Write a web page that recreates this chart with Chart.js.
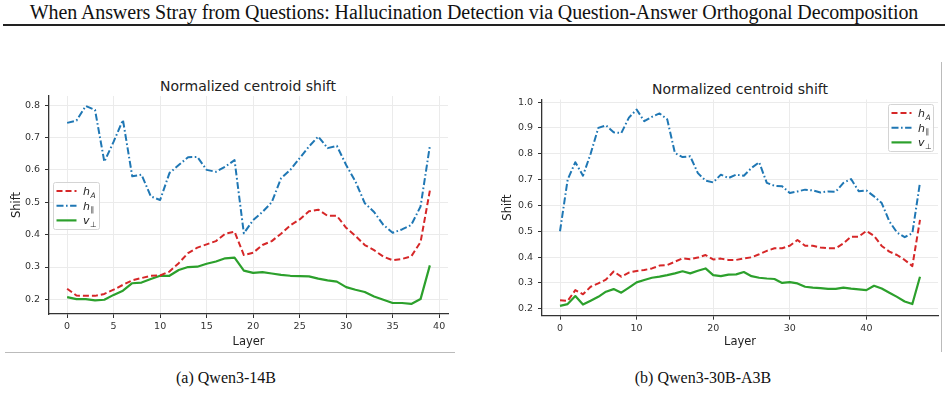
<!DOCTYPE html>
<html>
<head>
<meta charset="utf-8">
<script src="https://cdn.jsdelivr.net/npm/chart.js@4.4.1/dist/chart.umd.min.js"></script>
<style>
  body { margin: 0; background: #fff; width: 948px; height: 401px; position: relative; overflow: hidden; }
  .abs { position: absolute; }
  .paper { font-family: "Liberation Serif", "Times New Roman", serif; color: #111; white-space: nowrap; }
  .ttl { font-family: "DejaVu Sans", sans-serif; font-size: 14px; line-height: 14px; color: #222; white-space: nowrap; transform: translateX(-50%); }
  canvas { position: absolute; }
</style>
</head>
<body>
<div class="abs paper" id="header" style="left:0; width:948px; top:1px; text-align:center; font-size:20px; line-height:22px; letter-spacing:-0.1px;">When Answers Stray from Questions: Hallucination Detection via Question-Answer Orthogonal Decomposition</div>
<div class="abs" style="left:3px; top:24px; width:942px; height:1.5px; background:#222;"></div>
<div class="abs" style="left:5px; top:352px; width:450px; height:1px; background:#bbb;"></div>
<div class="abs" style="left:941px; top:62px; width:1px; height:290px; background:#bbb;"></div>

<div class="abs ttl" style="left:248px; top:79px;">Normalized centroid shift</div>
<div class="abs ttl" style="left:740px; top:82px;">Normalized centroid shift</div>

<canvas id="chartA" width="470" height="295" style="left:0; top:60px;"></canvas>
<canvas id="chartB" width="458" height="295" style="left:490px; top:60px;"></canvas>

<div class="abs paper" style="left:226px; top:369px; font-size:16px; line-height:18px; transform:translateX(-50%);">(a) Qwen3-14B</div>
<div class="abs paper" style="left:703px; top:369px; font-size:16px; line-height:18px; transform:translateX(-50%);">(b) Qwen3-30B-A3B</div>

<script>
// ---- data: (a) Qwen3-14B, 40 layers
const layers14B = [0,1,2,3,4,5,6,7,8,9,10,11,12,13,14,15,16,17,18,19,20,21,22,23,24,25,26,27,28,29,30,31,32,33,34,35,36,37,38,39];
const hA_14B = [0.233,0.212,0.211,0.211,0.217,0.230,0.245,0.259,0.266,0.273,0.274,0.286,0.312,0.343,0.360,0.370,0.380,0.403,0.409,0.337,
                0.344,0.368,0.380,0.403,0.429,0.447,0.472,0.477,0.458,0.458,0.421,0.396,0.368,0.352,0.332,0.321,0.325,0.333,0.377,0.536];
const hPar_14B = [0.745,0.752,0.797,0.785,0.625,0.687,0.754,0.580,0.585,0.518,0.507,0.590,0.615,0.639,0.640,0.600,0.594,0.610,0.630,0.404,
                  0.445,0.470,0.500,0.574,0.600,0.636,0.672,0.703,0.667,0.674,0.615,0.564,0.497,0.470,0.430,0.406,0.416,0.430,0.487,0.674];
const vPerp_14B = [0.207,0.201,0.201,0.197,0.199,0.214,0.227,0.250,0.252,0.263,0.273,0.273,0.291,0.300,0.301,0.310,0.317,0.327,0.329,0.289,
                   0.282,0.284,0.280,0.276,0.273,0.272,0.271,0.264,0.259,0.255,0.238,0.230,0.223,0.209,0.199,0.189,0.189,0.186,0.201,0.305];

// ---- data: (b) Qwen3-30B-A3B, 48 layers
const layers30B = [0,1,2,3,4,5,6,7,8,9,10,11,12,13,14,15,16,17,18,19,20,21,22,23,24,25,26,27,28,29,30,31,32,33,34,35,36,37,38,39,40,41,42,43,44,45,46,47];
const hA_30B = [0.233,0.230,0.272,0.256,0.285,0.298,0.313,0.344,0.324,0.340,0.346,0.350,0.356,0.367,0.369,0.382,0.395,0.392,0.398,0.408,
                0.391,0.394,0.389,0.389,0.395,0.399,0.411,0.424,0.434,0.434,0.444,0.466,0.444,0.444,0.437,0.434,0.434,0.453,0.479,0.479,
                0.501,0.482,0.443,0.421,0.408,0.389,0.365,0.544];
const hPar_30B = [0.500,0.700,0.767,0.715,0.800,0.900,0.910,0.883,0.880,0.940,0.971,0.926,0.943,0.956,0.933,0.803,0.787,0.790,0.725,0.696,
                  0.689,0.719,0.706,0.719,0.715,0.745,0.767,0.687,0.676,0.674,0.648,0.654,0.661,0.658,0.650,0.654,0.653,0.687,0.702,0.655,
                  0.658,0.635,0.609,0.538,0.495,0.477,0.492,0.689];
const vPerp_30B = [0.211,0.218,0.249,0.216,0.231,0.246,0.266,0.276,0.262,0.282,0.302,0.311,0.320,0.324,0.330,0.337,0.345,0.337,0.347,0.356,
                   0.330,0.326,0.332,0.333,0.342,0.326,0.320,0.317,0.315,0.300,0.303,0.298,0.285,0.282,0.280,0.277,0.277,0.282,0.278,0.275,
                   0.272,0.289,0.278,0.262,0.246,0.228,0.218,0.324];

// ---- ticks
const xTicks14B = [0,5,10,15,20,25,30,35,40];
const yTicks14B = [0.2,0.3,0.4,0.5,0.6,0.7,0.8];
const xTicks30B = [0,10,20,30,40];
const yTicks30B = [0.2,0.3,0.4,0.5,0.6,0.7,0.8,0.9,1.0];

// legend labels: base letter + subscript (math style)
const seriesLabels = [
  { base: 'h', sub: 'A', subItalic: true },
  { base: 'h', sub: '\u2225', subItalic: false },
  { base: 'v', sub: '\u22A5', subItalic: false }
];

Chart.defaults.font.family = "'DejaVu Sans', sans-serif";
Chart.defaults.color = '#333';

const RED = '#d62728', BLUE = '#1f77b4', GREEN = '#2ca02c';

// legend drawn inside the plot, mimicking the matplotlib box
const boxLegend = {
  id: 'boxLegend',
  afterDatasetsDraw(chart, args, opts) {
    const ctx = chart.ctx;
    const x = opts.x, y = opts.y, w = opts.w, h = opts.h;
    ctx.save();
    ctx.fillStyle = 'rgba(255,255,255,0.85)';
    ctx.strokeStyle = '#d4d4d4';
    ctx.lineWidth = 1;
    ctx.beginPath();
    ctx.roundRect(x + 0.5, y + 0.5, w, h, 2);
    ctx.fill();
    ctx.stroke();
    chart.data.datasets.forEach((ds, i) => {
      const cy = y + 9 + i * 14.7;
      ctx.strokeStyle = ds.borderColor;
      ctx.lineWidth = ds.borderWidth;
      ctx.setLineDash(ds.borderDash || []);
      ctx.beginPath();
      ctx.moveTo(x + 3.5, cy);
      ctx.lineTo(x + 23.5, cy);
      ctx.stroke();
      ctx.setLineDash([]);
      const lab = seriesLabels[i];
      ctx.fillStyle = '#222';
      ctx.textBaseline = 'alphabetic';
      ctx.font = "italic 11px 'DejaVu Sans'";
      const bx = x + 30;
      ctx.fillText(lab.base, bx, cy + 4);
      const bw = ctx.measureText(lab.base).width;
      ctx.font = (lab.subItalic ? 'italic ' : '') + "7.5px 'DejaVu Sans'";
      ctx.fillText(lab.sub, bx + bw + 0.5, cy + 6.5);
    });
    ctx.restore();
  }
};

function makeChart(id, layers, hA, hPar, vPerp, xTicks, yTicks, lim, geo) {
  const pts = arr => arr.map((v, i) => ({ x: layers[i], y: v }));
  return new Chart(document.getElementById(id), {
    type: 'line',
    data: {
      datasets: [
        { label: 'hA', data: pts(hA), borderColor: RED, borderWidth: 2, borderDash: [6, 3] },
        { label: 'hPar', data: pts(hPar), borderColor: BLUE, borderWidth: 2, borderDash: [7, 2.5, 1.6, 2.5] },
        { label: 'vPerp', data: pts(vPerp), borderColor: GREEN, borderWidth: 2.2 }
      ]
    },
    options: {
      responsive: false,
      animation: false,
      elements: { point: { radius: 0 }, line: { tension: 0, borderJoinStyle: 'round' } },
      layout: { padding: { left: 0, right: geo.right, top: geo.top, bottom: 0 } },
      plugins: {
        legend: { display: false },
        tooltip: { enabled: false },
        boxLegend: geo.legend
      },
      scales: {
        x: {
          type: 'linear',
          min: lim.xmin, max: lim.xmax,
          afterBuildTicks: s => { s.ticks = xTicks.map(v => ({ value: v })); },
          afterFit: s => { s.height = geo.xh; },
          ticks: { font: { size: 9.5 }, color: '#333', maxRotation: 0, autoSkip: false, padding: 3 },
          grid: { color: '#ebebeb', lineWidth: 1, tickColor: '#333', tickLength: 4 },
          border: { color: '#333', width: 1.3 },
          title: { display: true, text: 'Layer', font: { size: 11.5 }, color: '#222', padding: { top: 0, bottom: geo.xtPad } }
        },
        y: {
          min: lim.ymin, max: lim.ymax,
          afterBuildTicks: s => { s.ticks = yTicks.map(v => ({ value: v })); },
          afterFit: s => { s.width = geo.yw; },
          ticks: { font: { size: 9.5 }, color: '#333', padding: 5, callback: v => v.toFixed(1) },
          grid: { color: '#ebebeb', lineWidth: 1, tickColor: '#333', tickLength: 4 },
          border: { color: '#333', width: 1.3 },
          title: { display: true, text: 'Shift', font: { size: 11.5 }, color: '#222', padding: { top: geo.ytPad, bottom: 0 } }
        }
      }
    },
    plugins: [boxLegend]
  });
}

makeChart('chartA', layers14B, hA_14B, hPar_14B, vPerp_14B, xTicks14B, yTicks14B,
  { xmin: -1.95, xmax: 40.95, ymin: 0.155, ymax: 0.828 },
  { right: 22, top: 36, xh: 41, yw: 49, xtPad: 6, ytPad: 10,
    legend: { x: 53, y: 122, w: 46, h: 47 } });

makeChart('chartB', layers30B, hA_30B, hPar_30B, vPerp_30B, xTicks30B, yTicks30B,
  { xmin: -2.35, xmax: 49.35, ymin: 0.173, ymax: 1.010 },
  { right: 10, top: 39.5, xh: 39.3, yw: 52, xtPad: 6, ytPad: 11,
    legend: { x: 398, y: 44, w: 45, h: 47 } });
</script>
</body>
</html>
